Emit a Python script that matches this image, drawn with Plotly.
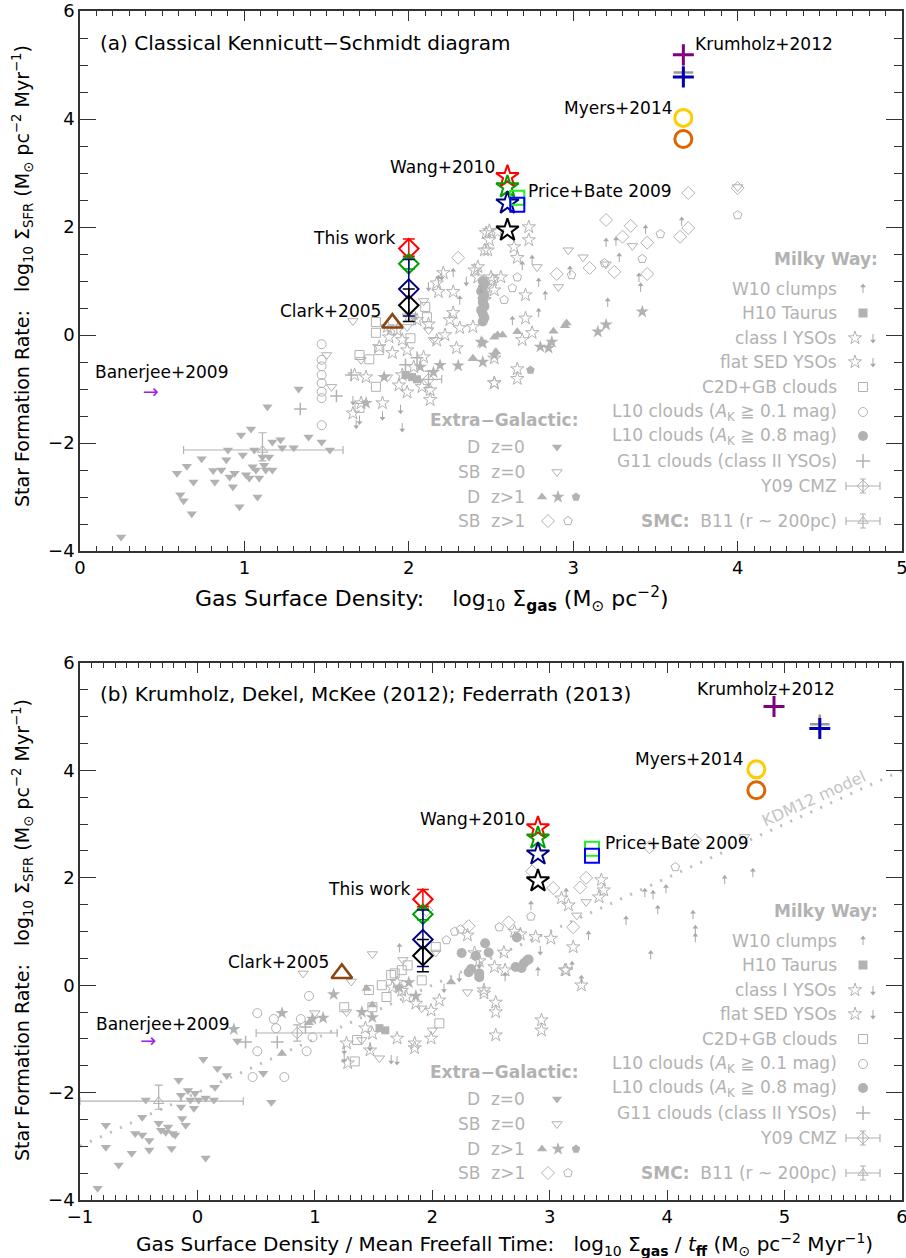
import plotly.graph_objects as go

W, H = 906, 1258
GRAY = "#b2b2b2"
FONT = "DejaVu Sans"

# ------------------------------------------------------------------ panel (a) data
a_dz0_x = [0.25,0.59,0.65,0.61,0.63,0.68,0.69,0.74,0.81,0.82,0.86,0.89,0.90,0.91,0.93,0.94,0.97,0.98,0.99,1.01,1.03,1.04,1.05,1.06,1.07,1.08,1.09,1.11,1.12,1.13,1.14,1.15,1.17,1.17,1.22,1.23,1.30,1.33,1.39,1.47,1.52]
a_dz0_y = [-3.74,-2.56,-2.43,-2.96,-3.07,-3.31,-2.72,-2.29,-2.51,-2.72,-2.50,-2.31,-2.13,-2.63,-2.81,-2.56,-3.18,-1.85,-2.22,-2.59,-2.65,-1.74,-2.44,-2.13,-2.50,-3.00,-2.65,-2.26,-2.41,-2.50,-1.33,-2.26,-1.98,-2.50,-1.94,-2.09,-2.09,-1.00,-1.89,-1.98,-2.13]
a_sbz0_x = [1.50,1.53,1.66,2.09,1.99,2.12,2.15,1.87,1.71,2.97,3.06,2.78,2.91,3.36,3.20,4.00]
a_sbz0_y = [-0.37,-0.96,0.26,0.63,0.15,0.09,-0.09,-0.78,-0.46,1.57,1.44,1.26,0.89,1.65,1.31,2.74]
a_dz1t_x = [2.54,2.57,2.66,2.88,2.96,2.39,2.53,2.39,2.52,2.95]
a_dz1t_y = [0.00,0.00,0.06,0.07,0.22,-0.43,-0.31,-0.44,-0.04,0.17]
a_dz1s_x = [2.44,2.45,2.80,2.85,2.87,3.15,3.20,3.42,2.45,2.19,2.30,2.07,2.15,1.74,1.85,2.52]
a_dz1s_y = [-0.13,-0.50,-0.22,-0.24,-0.13,0.06,0.19,0.43,-0.15,-0.56,-0.57,-0.59,-0.69,-1.26,-0.78,-0.37]
a_dz1p_x = [2.74]
a_dz1p_y = [-0.65]
a_sbz1d_x = [3.20,3.35,3.30,3.45,3.65,3.70,3.70,2.90,3.10,3.25,3.45,4.00,2.30]
a_sbz1d_y = [2.13,2.02,1.82,1.71,1.82,1.98,2.63,1.13,1.24,1.17,1.13,2.72,1.43]
a_sbz1p_x = [3.53,2.99,3.42,3.19,2.66,2.63,2.58,4.00]
a_sbz1p_y = [1.87,1.11,1.41,1.33,1.07,0.87,0.65,2.22]
a_w10_x = [2.75,2.79,2.83,2.79,2.63,2.98,3.20,3.26,3.28,3.44,3.40,3.41,3.21,3.66,2.69,2.18,2.27,2.31,2.04]
a_w10_y = [1.44,1.02,0.78,0.46,0.31,1.24,1.76,1.78,1.48,2.00,1.11,0.93,0.65,2.15,1.33,1.07,1.20,0.69,0.31]
a_h10_x = [2.02,2.05,1.98]
a_h10_y = [-0.78,-0.82,-0.74]
a_yso_x = [1.66,1.71,1.67,1.74,1.84,1.96,1.94,2.09,2.03,2.08,2.13,2.13,1.99,
           2.25,2.27,2.31,2.29,2.39,2.46,2.40,2.47,2.52,2.51,2.54,2.47,2.48,2.52,2.17,2.18,2.27,2.21,
           2.49,2.49,2.46,2.73,2.73,2.64,2.66,2.50,2.56,2.46,2.71,2.71,2.75,2.66,2.66,2.52,2.69,2.52,2.42,2.42,
           1.87,1.93,1.88,1.96,1.82,1.90,1.99,2.05,2.12,2.17,2.22,2.00]
a_yso_y = [-1.45,-1.26,-0.74,-0.78,-1.26,-0.74,-0.93,-0.41,-0.59,-0.96,-1.20,-1.02,-1.06,
           0.28,0.41,0.13,-0.24,0.15,0.65,1.20,0.89,0.83,1.02,1.91,1.89,1.57,-0.89,0.96,0.80,0.80,1.15,
           1.93,1.76,1.57,2.00,1.76,1.63,1.43,1.07,1.07,0.65,0.74,0.31,0.04,-0.63,-0.81,-0.89,-0.09,-0.43,1.26,1.07,
           0.15,0.09,-0.04,-0.09,-0.22,-0.33,-0.28,0.28,0.20,-0.10,0.00,0.35]
a_ysodn_x = [1.68,1.70,1.84,1.95,1.96,1.66,2.04,2.12,2.20,2.35,2.44]
a_ysodn_y = [-1.70,-1.62,-1.54,-1.42,-1.76,-1.26,0.31,0.85,1.05,0.95,0.80]
a_c2d_x = [1.80,1.80,1.70,1.80,1.70,2.01,2.10,2.11,1.82,1.76,1.90]
a_c2d_y = [0.24,0.04,-0.37,-0.96,-1.35,-0.06,0.52,0.33,-0.28,-0.45,0.10]
a_l10a_x = [1.47,1.47,1.47,1.47,1.47,1.47,1.47,1.47]
a_l10a_y = [-0.17,-0.46,-0.58,-0.74,-0.89,-1.05,-1.17,-1.67]
a_l10b_x = [2.45,2.46,2.45,2.44,2.46,2.45,2.45,2.46,2.44,2.45,2.46,2.45]
a_l10b_y = [0.25,0.32,0.39,0.46,0.53,0.60,0.67,0.74,0.81,0.88,0.95,1.00]
a_g11_x = [1.56,1.34,1.65,1.98,2.05]
a_g11_y = [-1.13,-1.37,-0.74,-0.55,-0.42]
a_cmz_x, a_cmz_y = [2.12], [-0.82]
a_cmz_ex, a_cmz_ey = [0.08], [0.15]
a_b11_x, a_b11_y = [1.11], [-2.13]
a_b11_exm, a_b11_exp, a_b11_eym, a_b11_eyp = [0.48], [0.49], [0.20], [0.32]

# ------------------------------------------------------------------ panel (b) data
b_dz0_x = [-0.85,-0.67,-0.78,-0.78,-0.56,-0.53,-0.47,-0.47,-0.41,-0.41,-0.44,-0.33,-0.31,-0.27,-0.25,-0.21,-0.22,-0.19,-0.16,-0.14,-0.14,-0.13,-0.10,-0.08,-0.06,-0.03,-0.02,0.01,0.07,0.07,0.14,0.15,0.17,0.25,0.05,0.34,0.56,0.63]
b_dz0_y = [-3.78,-3.35,-2.61,-3.02,-3.13,-2.76,-2.79,-2.46,-2.89,-3.07,-2.14,-2.57,-2.70,-2.74,-2.64,-2.76,-3.04,-2.79,-1.77,-2.05,-2.27,-2.48,-2.61,-1.96,-2.14,-2.29,-2.01,-2.14,-2.10,-3.22,-2.14,-1.90,-1.55,-1.68,-1.38,-1.04,-1.64,-2.18]
b_sbz0_x = [0.90,1.31,1.49,1.75,1.00,1.27,1.40,1.55,2.03,2.30,3.31,1.91,2.00,3.23,4.66]
b_sbz0_y = [0.22,0.07,0.58,0.47,-0.52,-0.50,-1.02,-1.36,0.61,-0.13,1.55,-0.43,-0.84,1.30,2.76]
b_dz1t_x = [0.72,1.44,1.49,2.16,0.95]
b_dz1t_y = [-1.27,-0.06,-0.37,0.06,-0.70]
b_dz1s_x = [0.31,0.72,1.16,0.98,1.07,1.40,1.49,1.72,1.80,1.86]
b_dz1s_y = [-0.82,-0.52,-0.17,-0.63,-0.61,-0.50,-0.60,-0.05,0.05,-0.20]
b_sbz1d_x = [2.31,2.65,2.85,3.31,3.20,3.03,3.26,4.24,3.85,1.95]
b_sbz1d_y = [1.10,1.17,2.12,2.00,1.08,1.81,1.82,2.70,2.57,1.40]
b_sbz1p_x = [2.19,2.24,2.12,2.57,4.07,2.84]
b_sbz1p_y = [1.00,1.04,0.84,1.08,2.20,1.28]
b_w10_x = [2.84,3.33,3.19,3.27,3.65,3.81,3.88,3.92,3.99,4.22,4.24,4.24,3.86,3.14,2.90,4.49,4.73,1.72,2.62]
b_w10_y = [1.53,0.97,0.41,0.15,1.25,1.77,1.73,1.45,1.84,1.36,1.08,0.93,0.61,1.77,0.30,2.01,2.14,0.74,0.20]
b_h10_x = [1.60,1.55]
b_h10_y = [-0.84,-0.80]
b_yso_x = [1.27,1.47,1.28,1.43,1.49,1.70,1.85,1.85,1.99,1.99,2.06,1.78,1.86,1.66,1.74,1.70,
           2.36,2.44,2.53,2.54,2.54,2.61,2.62,2.93,2.93,2.54,3.14,3.20,3.27,3.01,2.88,3.10,3.16,3.44,3.46,3.42,2.30,3.13,2.44,2.40,2.70,2.75]
b_yso_y = [-1.08,-1.21,-1.45,-0.80,-0.90,-0.99,-1.08,-1.17,-0.99,-0.47,-0.28,-0.22,-0.34,-0.04,-0.10,0.05,
           0.60,-0.15,0.34,-0.32,-0.50,0.61,0.28,-0.65,-0.84,-0.93,0.28,0.71,0.00,0.87,0.90,1.62,1.49,1.96,1.77,1.64,0.93,0.28,-0.09,0.45,1.00,0.95]
b_ysodn_x = [1.25,1.25,1.47,1.65,1.70,2.23,2.92,2.10,2.40]
b_ysodn_y = [-1.25,-1.40,-1.19,-1.43,-1.45,0.10,0.60,-0.10,0.35]
b_c2d_x = [1.25,1.36,1.34,1.46,1.57,1.65,1.74,1.61,1.49,1.79,1.91,2.06,1.68,2.03]
b_c2d_y = [-0.41,-1.02,-1.42,-0.09,0.00,0.19,0.28,-0.22,-0.41,0.37,0.09,-0.71,0.22,0.71]
b_l10a_x = [0.47,0.51,0.51,0.65,0.67,0.74,0.88,0.93,0.98,0.95]
b_l10a_y = [-1.71,-1.23,-0.52,-0.63,-0.80,-1.71,-0.63,-1.23,-0.97,-0.20]
b_l10b_x = [2.25,2.31,2.40,2.45,2.48,2.72,2.71,2.78,2.82,2.76,2.81,2.40,2.33,2.37]
b_l10b_y = [0.60,0.24,0.22,0.78,0.61,0.89,0.34,0.41,0.48,0.32,0.47,0.15,0.30,0.55]
b_g11_x = [0.41,0.68,0.92]
b_g11_y = [-1.06,-1.06,-0.78]
b_cmz_x, b_cmz_y = [0.85], [-0.89]
b_cmz_exm, b_cmz_exp, b_cmz_ey = [0.35], [0.34], [0.15]
b_b11_x, b_b11_y = [-0.33], [-2.16]
b_b11_exm, b_b11_exp, b_b11_eym, b_b11_eyp = [0.67], [0.72], [0.15], [0.30]
kdm_x = [-1.0, 6.0]
kdm_y = [-3.0, 4.0]

# ------------------------------------------------------------------ highlighted studies
tw_y = [1.60, 1.32, 0.85, 0.55]                 # This work (red, green, navy, black)
tw_ep = [0.18, 0.10, 0.55, 0.30]
tw_em = [0.14, 0.10, 0.50, 0.30]
tw_colors = ["#ff0000", "#00a000", "#000080", "#000000"]
wang_y = [2.93, 2.74, 2.44, 1.94]
pb_y = [2.54, 2.41]
pb_colors = ["#22ee22", "#0000ff"]
krum_y = [5.19, 4.78]
krum_colors = ["#800080", "#0000b0"]
krum_gray_y = [4.86]
myers_y = [4.02, 3.63]
myers_colors = ["#ffcc00", "#dd6600"]
clark_y = [0.22]
ban_y = [-1.07]

a_tw_x, a_wang_x, a_pb_x, a_krum_x, a_myers_x, a_clark_x, a_ban_x = 2.0, 2.6, 2.66, 3.67, 3.67, 1.90, 0.43
b_tw_x, b_wang_x, b_pb_x = 1.92, 2.90, 3.36
b_krum_x = [4.91, 5.30]
b_myers_x, b_clark_x, b_ban_x = 4.76, 1.23, -0.42

fig = go.Figure()
AX = {"a": ("x", "y"), "b": ("x2", "y2"), "k": ("x3", "y3")}
ARROW_STEM = {"a": 0.13, "b": 0.13, "k": 7}     # stem length of the limit arrows (axis units)
ACOL = "#a8a8a8"


def pts(xs, ys, panel, symbol, size=8, color=GRAY, lw=1.0, **kw):
    xa, ya = AX[panel]
    fig.add_trace(go.Scatter(x=xs, y=ys, xaxis=xa, yaxis=ya, mode="markers",
                             marker=dict(symbol=symbol, size=size, color=color,
                                         line=dict(color=color, width=lw)),
                             showlegend=False, hoverinfo="skip", **kw))


def arrows(xs, ys, panel, up=True):
    """small limit arrows: a triangular head with a thin stem (drawn as a one-sided error bar)"""
    n = len(xs)
    stem = [ARROW_STEM[panel]] * n
    zero = [0] * n
    below = (stem, zero) if panel != "k" else (zero, stem)   # pixel axis is reversed
    plus, minus = (below[1], below[0]) if up else (below[0], below[1])
    pts(xs, ys, panel, "triangle-up" if up else "triangle-down", size=5, color=ACOL, lw=0,
        error_y=dict(type="data", symmetric=False, array=plus, arrayminus=minus,
                     color=ACOL, thickness=1, width=0))


def glyph(xs, ys, panel, ch, size=11, color=GRAY):
    xa, ya = AX[panel]
    fig.add_trace(go.Scatter(x=xs, y=ys, xaxis=xa, yaxis=ya, mode="text",
                             text=[ch] * len(xs), textposition="middle center",
                             textfont=dict(size=size, color=color, family=FONT),
                             showlegend=False, hoverinfo="skip"))


# dotted KDM12 model line
fig.add_trace(go.Scatter(x=kdm_x, y=kdm_y, xaxis="x2", yaxis="y2", mode="lines",
                         line=dict(color="#bdbdbd", width=3, dash="2px,9px"),
                         showlegend=False, hoverinfo="skip"))

for p, D in (("a", dict(dz0=(a_dz0_x, a_dz0_y), sbz0=(a_sbz0_x, a_sbz0_y), dz1t=(a_dz1t_x, a_dz1t_y),
                         dz1s=(a_dz1s_x, a_dz1s_y), dz1p=(a_dz1p_x, a_dz1p_y), sbz1d=(a_sbz1d_x, a_sbz1d_y),
                         sbz1p=(a_sbz1p_x, a_sbz1p_y), w10=(a_w10_x, a_w10_y), h10=(a_h10_x, a_h10_y),
                         yso=(a_yso_x, a_yso_y), ysodn=(a_ysodn_x, a_ysodn_y), c2d=(a_c2d_x, a_c2d_y),
                         l10a=(a_l10a_x, a_l10a_y), l10b=(a_l10b_x, a_l10b_y), g11=(a_g11_x, a_g11_y))),
             ("b", dict(dz0=(b_dz0_x, b_dz0_y), sbz0=(b_sbz0_x, b_sbz0_y), dz1t=(b_dz1t_x, b_dz1t_y),
                         dz1s=(b_dz1s_x, b_dz1s_y), dz1p=([], []), sbz1d=(b_sbz1d_x, b_sbz1d_y),
                         sbz1p=(b_sbz1p_x, b_sbz1p_y), w10=(b_w10_x, b_w10_y), h10=(b_h10_x, b_h10_y),
                         yso=(b_yso_x, b_yso_y), ysodn=(b_ysodn_x, b_ysodn_y), c2d=(b_c2d_x, b_c2d_y),
                         l10a=(b_l10a_x, b_l10a_y), l10b=(b_l10b_x, b_l10b_y), g11=(b_g11_x, b_g11_y)))):
    pts(*D["l10b"], p, "circle", size=10, lw=0)
    pts(*D["dz0"], p, "triangle-down", size=9, lw=0)
    pts(*D["sbz0"], p, "triangle-down-open", size=9)
    pts(*D["dz1t"], p, "triangle-up", size=9, lw=0)
    pts(*D["dz1s"], p, "star", size=10, lw=0)
    pts(*D["dz1p"], p, "pentagon", size=9, lw=0)
    pts(*D["sbz1d"], p, "diamond-open", size=10)
    pts(*D["sbz1p"], p, "pentagon-open", size=9)
    pts(*D["h10"], p, "square", size=8, lw=0)
    pts(*D["yso"], p, "star-open", size=10)
    pts(*D["c2d"], p, "square-open", size=9)
    pts(*D["l10a"], p, "circle-open", size=9)
    pts(*D["g11"], p, "cross-thin-open", size=9, lw=1.5)
    arrows(*D["w10"], p, up=True)
    arrows(*D["ysodn"], p, up=False)

# CMZ and SMC with error bars
pts(a_cmz_x, a_cmz_y, "a", "diamond-open", size=9,
    error_x=dict(type="data", array=a_cmz_ex, color=GRAY, thickness=1.2, width=4),
    error_y=dict(type="data", array=a_cmz_ey, color=GRAY, thickness=1.2, width=4))
pts(a_b11_x, a_b11_y, "a", "triangle-up-open", size=9,
    error_x=dict(type="data", array=a_b11_exp, arrayminus=a_b11_exm, color=GRAY, thickness=1.2, width=4),
    error_y=dict(type="data", array=a_b11_eyp, arrayminus=a_b11_eym, color=GRAY, thickness=1.2, width=4))
pts(b_cmz_x, b_cmz_y, "b", "diamond-open", size=9,
    error_x=dict(type="data", array=b_cmz_exp, arrayminus=b_cmz_exm, color=GRAY, thickness=1.2, width=4),
    error_y=dict(type="data", array=b_cmz_ey, color=GRAY, thickness=1.2, width=4))
pts(b_b11_x, b_b11_y, "b", "triangle-up-open", size=9,
    error_x=dict(type="data", array=b_b11_exp, arrayminus=b_b11_exm, color=GRAY, thickness=1.2, width=4),
    error_y=dict(type="data", array=b_b11_eyp, arrayminus=b_b11_eym, color=GRAY, thickness=1.2, width=4))

# ------------------------------------------------------------------ highlighted studies (both panels)
for p, twx, wx, pbx, kx, mx, cx, bx in (("a", a_tw_x, a_wang_x, a_pb_x, [a_krum_x, a_krum_x], a_myers_x, a_clark_x, a_ban_x),
                                        ("b", b_tw_x, b_wang_x, b_pb_x, b_krum_x, b_myers_x, b_clark_x, b_ban_x)):
    pts([kx[1]], krum_gray_y, p, "cross-thin-open", size=14, color="#999999", lw=2.5)
    for yy, ep, em, col in zip(tw_y, tw_ep, tw_em, tw_colors):
        pts([twx], [yy], p, "diamond-open", size=15, color=col, lw=2,
            error_y=dict(type="data", array=[ep], arrayminus=[em], color=col, thickness=1.5, width=6))
    for yy, col in zip(wang_y, tw_colors):
        pts([wx], [yy], p, "star-open", size=17, color=col, lw=2)
    for yy, col in zip(pb_y, pb_colors):
        pts([pbx], [yy], p, "square-open", size=14, color=col, lw=2)
    for xx, yy, col in zip(kx, krum_y, krum_colors):
        pts([xx], [yy], p, "cross-thin-open", size=15, color=col, lw=3)
    for yy, col in zip(myers_y, myers_colors):
        pts([mx], [yy], p, "circle-open", size=17, color=col, lw=3)
    pts([cx], clark_y, p, "triangle-up-open", size=18, color="#8b4513", lw=2.5)
    glyph([bx], ban_y, p, "→", size=19, color="#a020f0")

# ------------------------------------------------------------------ legend keys (pixel overlay)
LEG_DY = [0, 652]
for dy in LEG_DY:
    arrows([863], [286 + dy], "k", up=True)
    pts([863], [313 + dy], "k", "square", size=9, lw=0)
    pts([855, 855], [338 + dy, 362 + dy], "k", "star-open", size=10)
    arrows([873, 873], [341 + dy, 365 + dy], "k", up=False)
    pts([863], [387 + dy], "k", "square-open", size=9)
    pts([863], [412 + dy], "k", "circle-open", size=9)
    pts([863], [436 + dy], "k", "circle", size=10, lw=0)
    pts([863], [461 + dy], "k", "cross-thin-open", size=10, lw=1.5)
    pts([863], [486 + dy], "k", "diamond-open", size=9,
        error_x=dict(type="data", array=[17], color=GRAY, thickness=1.2, width=4),
        error_y=dict(type="data", array=[7], color=GRAY, thickness=1.2, width=3))
    pts([863], [521 + dy], "k", "triangle-up-open", size=9,
        error_x=dict(type="data", array=[17], color=GRAY, thickness=1.2, width=4),
        error_y=dict(type="data", array=[7], color=GRAY, thickness=1.2, width=3))
    pts([557], [447 + dy], "k", "triangle-down", size=9, lw=0)
    pts([557], [472 + dy], "k", "triangle-down-open", size=9)
    pts([542], [497 + dy], "k", "triangle-up", size=9, lw=0)
    pts([558], [497 + dy], "k", "star", size=10, lw=0)
    pts([576], [497 + dy], "k", "pentagon", size=9, lw=0)
    pts([548], [521 + dy], "k", "diamond-open", size=10)
    pts([568], [521 + dy], "k", "pentagon-open", size=9)

# dummy traces so that the mirror axes (top / right ticks) are drawn
for xa, ya in (("x4", "y4"), ("x5", "y5")):
    fig.add_trace(go.Scatter(x=[None], y=[None], xaxis=xa, yaxis=ya, mode="markers",
                             showlegend=False, hoverinfo="skip"))

# ------------------------------------------------------------------ annotations
ann = []


def txt(x, y, s, xref="paper", yref="paper", xanchor="left", size=17, color="black", angle=0, yanchor="middle"):
    ann.append(dict(x=x, y=y, xref=xref, yref=yref, text=s, showarrow=False, xanchor=xanchor,
                    yanchor=yanchor, textangle=angle, font=dict(size=size, color=color, family=FONT)))


def P(px, py):
    return px / W, 1 - py / H


# panel titles
txt(*P(98, 43), "(a) Classical Kennicutt\u2212Schmidt diagram", size=20)
txt(*P(98, 694), "(b) Krumholz, Dekel, McKee (2012); Federrath (2013)", size=20)

# study labels
for xr, yr, lab in (("x", "y", [(3.73, 5.39, "Krumholz+2012", "left"), (3.62, 4.20, "Myers+2014", "right"),
                                 (2.535, 3.11, "Wang+2010", "right"), (2.71, 2.67, "Price+Bate 2009", "left"),
                                 (1.93, 1.80, "This work", "right"), (1.84, 0.44, "Clark+2005", "right"),
                                 (0.08, -0.69, "Banerjee+2009", "left")]),
                    ("x2", "y2", [(4.24, 5.51, "Krumholz+2012", "left"), (4.67, 4.21, "Myers+2014", "right"),
                                  (2.81, 3.09, "Wang+2010", "right"), (3.45, 2.64, "Price+Bate 2009", "left"),
                                  (1.83, 1.79, "This work", "right"), (1.14, 0.43, "Clark+2005", "right"),
                                  (-0.88, -0.73, "Banerjee+2009", "left")])):
    for x, y, s, anc in lab:
        txt(x, y, s, xref=xr, yref=yr, xanchor=anc)

txt(5.25, 3.47, "KDM12 model", xref="x2", yref="y2", xanchor="center", size=16, color="#c4c4c4", angle=-24.5)

# legends
mw_rows = [(289, "W10 clumps"), (313, "H10 Taurus"), (338, "class I YSOs"), (362, "flat SED YSOs"),
           (387, "C2D+GB clouds"), (412, "L10 clouds (<i>A</i><sub>K</sub> \u2267 0.1 mag)"),
           (436, "L10 clouds (<i>A</i><sub>K</sub> \u2267 0.8 mag)"), (461, "G11 clouds (class II YSOs)"),
           (486, "Y09 CMZ"), (521, "<b>SMC:</b>  B11 (r ~ 200pc)")]
eg_rows = [(447, "D  z=0"), (472, "SB  z=0"), (497, "D  z>1"), (521, "SB  z>1")]
for dy in LEG_DY:
    txt(*P(880, 259 + dy), "<b>Milky Way:</b>", xanchor="right", size=17, color=GRAY)
    for py, s in mw_rows:
        txt(*P(839, py + dy), s, xanchor="right", size=17, color=GRAY)
    txt(*P(580, 420 + dy), "<b>Extra\u2212Galactic:</b>", xanchor="right", size=17, color=GRAY)
    for py, s in eg_rows:
        txt(*P(527, py + dy), s, xanchor="right", size=17, color=GRAY)

# axis titles
txt(*P(432, 599), "Gas Surface Density:\u00a0\u00a0\u00a0 log<sub>10</sub> \u03a3<sub><b>gas</b></sub> (M<sub>\u2299</sub> pc<sup>\u22122</sup>)",
    xanchor="center", size=22)
txt(*P(505, 1244), "Gas Surface Density / Mean Freefall Time:\u00a0\u00a0 log<sub>10</sub> \u03a3<sub><b>gas</b></sub> / <i>t</i><sub><b>ff</b></sub> (M<sub>\u2299</sub> pc<sup>\u22122</sup> Myr<sup>\u22121</sup>)",
    xanchor="center", size=20)
ytitle = "Star Formation Rate:\u00a0\u00a0 log<sub>10</sub> \u03a3<sub>SFR</sub> (M<sub>\u2299</sub> pc<sup>\u22122</sup> Myr<sup>\u22121</sup>)"
txt(*P(22, 276), ytitle, xanchor="center", angle=-90, size=19)
txt(*P(22, 930), ytitle, xanchor="center", angle=-90, size=19)

# ------------------------------------------------------------------ axes
TC = "#333333"
common = dict(showgrid=False, zeroline=False, showline=True, linecolor=TC, linewidth=1.5,
              mirror=True, ticks="inside", tickcolor=TC, tickwidth=1.3, automargin=False,
              ticklabeloverflow="allow", tickfont=dict(size=18, family=FONT, color="black"))
mirror_ax = dict(showgrid=False, zeroline=False, showline=False, ticks="inside", tickcolor=TC, tickwidth=1.3,
                 showticklabels=False, automargin=False)
xdom = [80 / W, 902 / W]
ydom_a = [1 - 551 / H, 1 - 11 / H]
ydom_b = [1 - 1200 / H, 1 - 663 / H]
xminor = dict(dtick=0.1, ticklen=5, ticks="inside", tickcolor=TC)
yminor = dict(dtick=0.5, ticklen=8, ticks="inside", tickcolor=TC)
fig.update_layout(
    width=W, height=H, margin=dict(l=0, r=0, t=0, b=0, autoexpand=False),
    paper_bgcolor="white", plot_bgcolor="rgba(0,0,0,0)", showlegend=False,
    xaxis=dict(domain=xdom, range=[0, 5], tick0=0, dtick=1, ticklen=10, anchor="y", minor=xminor, **common),
    yaxis=dict(domain=ydom_a, range=[-4, 6], tick0=0, dtick=2, ticklen=16, anchor="x", minor=yminor, **common),
    xaxis2=dict(domain=xdom, range=[-1, 6], tick0=0, dtick=1, ticklen=10, anchor="y2", minor=xminor, **common),
    yaxis2=dict(domain=ydom_b, range=[-4, 6], tick0=0, dtick=2, ticklen=16, anchor="x2", minor=yminor, **common),
    xaxis3=dict(domain=[0, 1], range=[0, W], visible=False, anchor="y3", fixedrange=True),
    yaxis3=dict(domain=[0, 1], range=[H, 0], visible=False, anchor="x3", fixedrange=True),
    xaxis4=dict(overlaying="x", side="top", range=[0, 5], tick0=0, dtick=1, ticklen=10, anchor="y",
                minor=xminor, **mirror_ax),
    yaxis4=dict(overlaying="y", side="right", range=[-4, 6], tick0=0, dtick=2, ticklen=16, anchor="x",
                minor=yminor, **mirror_ax),
    xaxis5=dict(overlaying="x2", side="top", range=[-1, 6], tick0=0, dtick=1, ticklen=10, anchor="y2",
                minor=xminor, **mirror_ax),
    yaxis5=dict(overlaying="y2", side="right", range=[-4, 6], tick0=0, dtick=2, ticklen=16, anchor="x2",
                minor=yminor, **mirror_ax),
    annotations=ann,
    font=dict(family=FONT),
)

fig.write_html("out.html", config={"displayModeBar": False},
               post_script="document.body.style.margin='0px';document.body.style.overflow='hidden';")
